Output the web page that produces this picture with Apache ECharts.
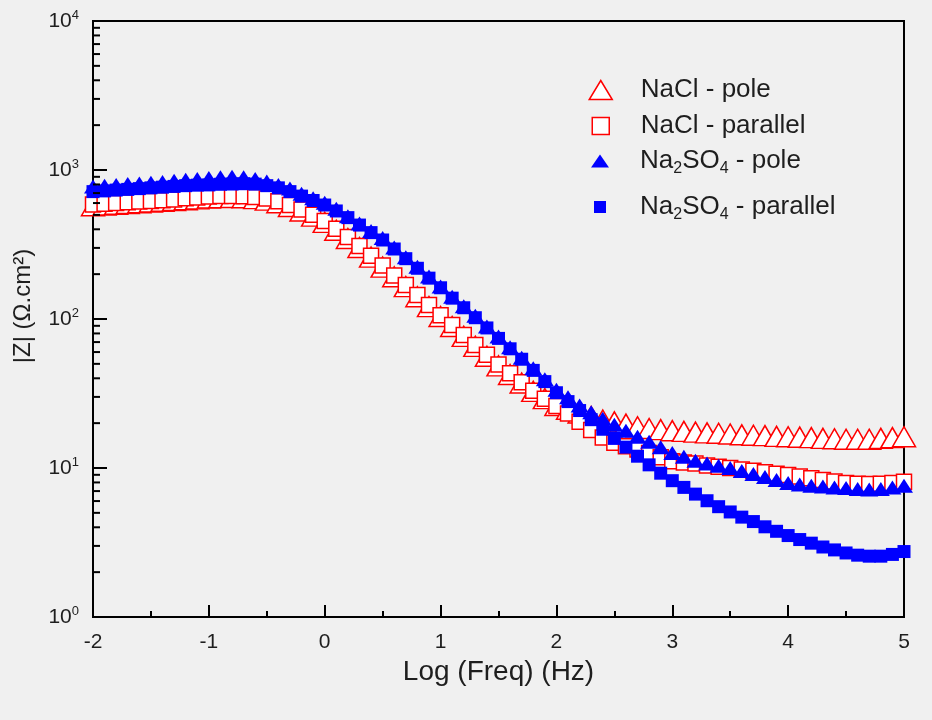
<!DOCTYPE html>
<html>
<head>
<meta charset="utf-8">
<script src="https://cdn.jsdelivr.net/npm/echarts@6/dist/echarts.min.js"></script>
<style>
html,body{margin:0;padding:0;background:#f0f0f0;}
#chart{width:932px;height:720px;}
</style>
</head>
<body>
<div id="chart"></div>
<script>
// Log(Freq) values (Hz, decades)
const logFreq = [
-2.0,-1.9,-1.8,-1.7,-1.6,-1.5,-1.4,-1.3,-1.2,-1.1,
-1.0,-0.9,-0.8,-0.7,-0.6,-0.5,-0.4,-0.3,-0.2,-0.1,
0.0,0.1,0.2,0.3,0.4,0.5,0.6,0.7,0.8,0.9,
1.0,1.1,1.2,1.3,1.4,1.5,1.6,1.7,1.8,1.9,
2.0,2.1,2.2,2.3,2.4,2.5,2.6,2.7,2.8,2.9,
3.0,3.1,3.2,3.3,3.4,3.5,3.6,3.7,3.8,3.9,
4.0,4.1,4.2,4.3,4.4,4.5,4.6,4.7,4.8,4.9,
5.0];

// |Z| (ohm.cm2)
const naclPole = [
575,582,589,596,603,610,617,624,631,640,
649,653,655,652,643,628,603,569,531,490,
445,394,347,302,260,223,192,165,141,121,
104,89.1,76.4,65.5,56.2,48.5,42.4,37.2,32.7,29.2,
26.3,24.8,23.4,22.1,21.0,20.4,19.7,18.9,18.4,18.1,
17.8,17.6,17.4,17.2,17.1,16.9,16.7,16.6,16.5,16.3,
16.2,16.1,16.0,15.8,15.7,15.6,15.6,15.6,15.8,16.0,
16.2];

const naclParallel = [
586,593,600,607,614,619,627,635,646,655,
664,668,670,667,658,643,617,582,543,501,
455,403,355,309,266,229,196,169,145,124,
106,91.2,78.2,67.0,57.5,49.5,43.2,37.6,33.0,29.2,
26.1,23.2,20.4,18.0,16.0,14.8,14.0,13.3,12.6,11.8,
11.1,10.9,10.7,10.4,10.2,10.0,9.77,9.57,9.38,9.16,
8.97,8.77,8.55,8.32,8.13,7.94,7.85,7.82,7.85,7.94,
8.09];

const na2so4Pole = [
776,785,794,804,813,822,832,847,861,871,
883,895,902,895,871,838,794,750,692,646,
603,550,490,437,389,349,302,260,224,193,
165,141,122,105,89.1,76.4,64.6,55.0,46.8,39.4,
33.5,29.9,26.3,23.7,21.4,19.5,17.8,16.2,15.0,13.8,
12.6,11.9,11.2,10.7,10.35,10.0,9.55,9.12,8.71,8.32,
7.94,7.76,7.59,7.50,7.41,7.35,7.24,7.16,7.24,7.41,
7.59];

const na2so4Parallel = [
716,724,733,741,750,759,767,776,785,791,
794,802,805,809,804,785,759,716,668,624,
582,531,479,427,380,339,295,254,219,188,
162,138,119,102,87.1,74.1,63.1,53.7,45.2,38.0,
32.0,27.9,24.3,21.1,18.2,15.8,13.8,12.0,10.5,9.23,
8.22,7.41,6.68,6.03,5.50,5.07,4.68,4.37,4.03,3.76,
3.52,3.31,3.13,2.95,2.82,2.69,2.60,2.56,2.56,2.63,
2.75];

const seriesNames = ['NaCl - pole', 'NaCl - parallel', 'Na2SO4 - pole', 'Na2SO4 - parallel'];
const yMinorTicks = [2,3,4,5,6,7,8,9,20,30,40,50,60,70,80,90,200,300,400,500,600,700,800,900,2000,3000,4000,5000,6000,7000,8000,9000];
const xTitle = 'Log (Freq) (Hz)';
const yTitle = '|Z| (\u03A9.cm\u00B2)';

const FONT = 'Liberation Sans, Arial, sans-serif';
const TXT = '#1e1e1e';
const RED = '#ff0000';
const BLUE = '#0000ff';

function pairs(vals){ return logFreq.map((x,i)=>[x, vals[i]]); }

function legendLabel(name){
  if (name.indexOf('Na2SO4') === 0) {
    return '{n|Na}{s|2}{n|SO}{s|4}{n|' + name.slice(6) + '}';
  }
  return '{n|' + name + '}';
}
const legendRich = {
  n: {fontSize: 26, fontFamily: FONT, color: TXT},
  s: {fontSize: 16, fontFamily: FONT, color: TXT, padding: [16,0,0,0]}
};

function makeLegend(name, top, iconW, iconH, icon, iconStyle){
  const pad = 35 - iconW/2;
  return {
    data: [{name: name, icon: icon, itemStyle: iconStyle}],
    left: 600 - iconW/2,
    top: top,
    padding: 0,
    orient: 'vertical',
    itemWidth: iconW,
    itemHeight: iconH,
    selectedMode: false,
    formatter: legendLabel,
    textStyle: {rich: legendRich, padding: [0,0,0,pad]}
  };
}

const hollowRed = {color: '#ffffff', borderColor: RED, borderWidth: 1.5, opacity: 1};
const solidBlue = {color: BLUE, opacity: 1};

const chart = echarts.init(document.getElementById('chart'), null, {renderer: 'canvas'});
chart.setOption({
  backgroundColor: '#f0f0f0',
  animation: false,
  textStyle: {fontFamily: FONT},
  grid: {left: 93, right: 28, top: 21, bottom: 103, show: true, borderColor: '#000', borderWidth: 2, backgroundColor: 'transparent'},
  legend: [
    makeLegend(seriesNames[0], 77, 23, 19, 'triangle', hollowRed),
    makeLegend(seriesNames[1], 113, 17, 17, 'rect', hollowRed),
    makeLegend(seriesNames[2], 148, 18, 13, 'triangle', solidBlue),
    makeLegend(seriesNames[3], 194, 12, 12, 'rect', solidBlue)
  ],
  xAxis: {
    type: 'value', min: -2, max: 5, interval: 1,
    name: xTitle, nameLocation: 'middle', nameGap: 41,
    nameTextStyle: {fontSize: 28, color: TXT, fontFamily: FONT},
    axisLine: {show: true, onZero: false, lineStyle: {color: '#000', width: 2}},
    axisTick: {show: true, inside: true, length: 12, lineStyle: {color: '#000', width: 2}},
    minorTick: {show: true, splitNumber: 2, length: 6, lineStyle: {color: '#000', width: 2}},
    axisLabel: {fontSize: 21, color: TXT, margin: 15, fontFamily: FONT},
    splitLine: {show: false}
  },
  yAxis: {
    type: 'log', logBase: 10, min: 1, max: 10000,
    name: yTitle, nameLocation: 'middle', nameGap: 58, nameRotate: 90,
    nameTextStyle: {fontSize: 24, color: TXT, fontFamily: FONT, padding: [0,0,0,26]},
    axisLine: {show: true, onZero: false, lineStyle: {color: '#000', width: 2}},
    axisTick: {show: true, inside: true, length: 14, lineStyle: {color: '#000', width: 2}},
    axisLabel: {
      margin: 14, color: TXT,
      formatter: function(v){ return '{a|10}{b|' + Math.round(Math.log10(v)) + '}'; },
      rich: {
        a: {fontSize: 21, fontFamily: FONT, color: TXT},
        b: {fontSize: 13, fontFamily: FONT, color: TXT, padding: [0,0,12,0]}
      }
    },
    splitLine: {show: false}
  },
  series: [
    {
      type: 'custom', name: 'yminor', silent: true, clip: false,
      data: yMinorTicks.map(v => [-2, v]),
      renderItem: function(params, api){
        const p = api.coord([api.value(0), api.value(1)]);
        return {type: 'line', shape: {x1: p[0], y1: p[1], x2: p[0] + 7, y2: p[1]}, style: {stroke: '#000', lineWidth: 2}};
      },
      z: 5
    },
    {
      name: seriesNames[0], type: 'scatter', data: pairs(naclPole),
      symbol: 'triangle', symbolSize: [23, 20],
      itemStyle: hollowRed,
      z: 2
    },
    {
      name: seriesNames[1], type: 'scatter', data: pairs(naclParallel),
      symbol: 'rect', symbolSize: 15,
      itemStyle: hollowRed,
      z: 3
    },
    {
      name: seriesNames[3], type: 'scatter', data: pairs(na2so4Parallel),
      symbol: 'rect', symbolSize: 13,
      itemStyle: solidBlue,
      z: 4
    },
    {
      name: seriesNames[2], type: 'scatter', data: pairs(na2so4Pole),
      symbol: 'triangle', symbolSize: [18, 14],
      itemStyle: solidBlue,
      z: 4
    }
  ]
});
</script>
</body>
</html>
